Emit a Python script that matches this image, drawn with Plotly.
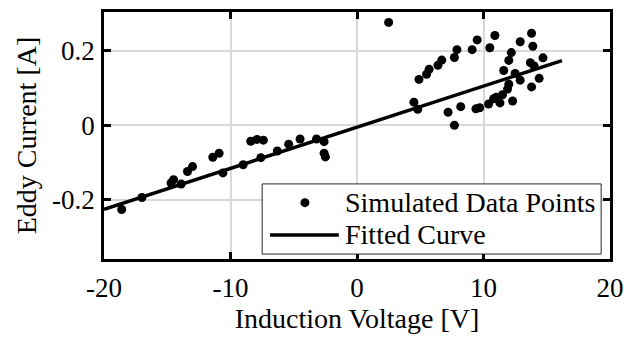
import plotly.graph_objects as go

# Simulated eddy-current samples (induction voltage [V], eddy current [A])
sim_voltage = [
    -18.6, -17.0, -14.7, -14.5, -13.9, -13.4, -13.0, -11.4, -10.9, -10.6,
    -9.0, -8.4, -7.9, -7.4, -7.6, -6.3, -5.4, -4.5, -3.2, -2.6, -2.6, -2.5,
    2.5, 4.9, 5.5, 5.7, 6.4, 6.7, 7.7, 7.9, 9.1, 9.5, 10.5, 10.9,
    12.2, 12.0, 12.9, 13.8, 13.9, 14.7, 13.7, 14.0, 11.6, 12.5, 12.9,
    14.4, 13.8, 12.0, 11.9, 11.5, 11.0, 11.3, 12.3, 10.8, 10.4, 9.4,
    9.7, 8.2, 7.2, 7.7, 4.5, 4.8,
]
sim_current = [
    -0.226, -0.194, -0.155, -0.146, -0.158, -0.124, -0.111, -0.086, -0.075, -0.128,
    -0.106, -0.043, -0.038, -0.040, -0.087, -0.069, -0.051, -0.037, -0.037, -0.044, -0.075, -0.085,
    0.276, 0.123, 0.137, 0.150, 0.161, 0.175, 0.182, 0.203, 0.203, 0.229, 0.208, 0.241,
    0.195, 0.174, 0.224, 0.247, 0.212, 0.181, 0.168, 0.159, 0.147, 0.139, 0.121,
    0.126, 0.103, 0.110, 0.097, 0.082, 0.075, 0.060, 0.065, 0.071, 0.057, 0.044,
    0.047, 0.050, 0.035, 0.000, 0.062, 0.043,
]

# Linear fit evaluated at its two ends
fit_voltage = [-20.0, 16.2]
fit_current = [-0.226, 0.1735]

x_ticks = [-20, -10, 0, 10, 20]
y_ticks = [-0.2, 0, 0.2]
y_tick_text = ["-0.2", "0", "0.2"]

legend_labels = ["Simulated Data Points", "Fitted Curve"]

FONT = "Liberation Serif"
TICK_SIZE = 27
TEXT_SIZE = 28

fig = go.Figure()
fig.add_trace(go.Scatter(
    x=sim_voltage, y=sim_current, mode="markers",
    marker=dict(color="black", size=9, line=dict(width=0)),
    name=legend_labels[0], showlegend=False,
))
fig.add_trace(go.Scatter(
    x=fit_voltage, y=fit_current, mode="lines",
    line=dict(color="black", width=3.5),
    name=legend_labels[1], showlegend=False,
))

axis_common = dict(
    showline=True, linecolor="black", linewidth=2.5, mirror="ticks",
    ticks="inside", ticklen=7, tickwidth=2.5, tickcolor="black",
    showgrid=True, gridcolor="#d9d9d9", gridwidth=1.5,
    zeroline=False,
    tickfont=dict(family=FONT, size=TICK_SIZE, color="black"),
)

fig.update_xaxes(
    range=[-20, 20], tickvals=x_ticks, ticktext=[str(v) for v in x_ticks],
    title=dict(text="Induction Voltage [V]", font=dict(family=FONT, size=TEXT_SIZE, color="black"), standoff=4),
    ticklabelstandoff=3,
    **axis_common,
)
fig.update_yaxes(
    range=[-0.359, 0.304], tickvals=y_ticks, ticktext=y_tick_text,
    title=dict(text="Eddy Current [A]", font=dict(family=FONT, size=TEXT_SIZE, color="black"), standoff=8),
    ticklabelstandoff=1,
    **axis_common,
)

# Legend box drawn in plot-area (paper) coordinates
L, T, W, H = 104, 9, 515, 250


def px(xp):
    return (xp - L) / W


def py(yp):
    return (T + H - yp) / H


shapes = [
    dict(type="rect", xref="paper", yref="paper",
         x0=px(265), x1=px(610), y0=py(254), y1=py(183),
         fillcolor="white", line=dict(color="#262626", width=1), layer="above"),
    dict(type="line", xref="paper", yref="paper",
         x0=px(273), x1=px(343), y0=py(234.7), y1=py(234.7),
         line=dict(color="black", width=3.5), layer="above"),
    dict(type="circle", xref="paper", yref="paper",
         xsizemode="pixel", ysizemode="pixel",
         xanchor=px(308.5), yanchor=py(202),
         x0=-4.5, x1=4.5, y0=-4.5, y1=4.5,
         fillcolor="black", line=dict(width=0), layer="above"),
]
annotations = [
    dict(xref="paper", yref="paper", x=px(347), y=py(202), text=legend_labels[0],
         showarrow=False, xanchor="left", yanchor="middle",
         font=dict(family=FONT, size=TEXT_SIZE, color="black")),
    dict(xref="paper", yref="paper", x=px(347), y=py(234.7), text=legend_labels[1],
         showarrow=False, xanchor="left", yanchor="middle",
         font=dict(family=FONT, size=TEXT_SIZE, color="black")),
]

fig.update_layout(
    width=633, height=340,
    margin=dict(l=L, r=633 - L - W, t=T, b=340 - T - H),
    paper_bgcolor="white", plot_bgcolor="white",
    showlegend=False,
    font=dict(family=FONT),
    shapes=shapes, annotations=annotations,
)

fig.write_html("out.html")
